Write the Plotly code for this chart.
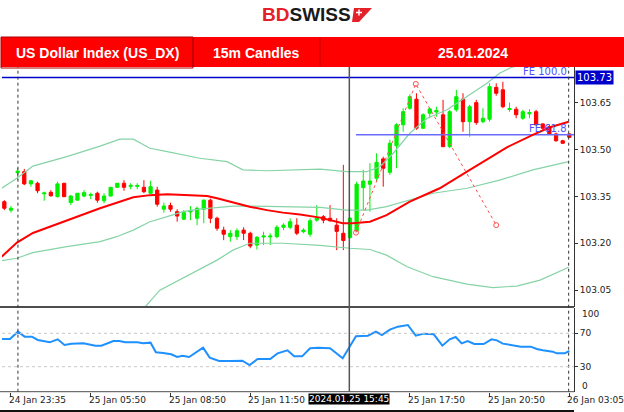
import plotly.graph_objects as go

# ---- datos ----
opens = [103.333, 103.306, 103.426, 103.429, 103.390, 103.392, 103.358, 103.363, 103.349, 103.392,
         103.330, 103.338, 103.351, 103.353, 103.360, 103.336, 103.351, 103.379, 103.392, 103.382,
         103.382, 103.379, 103.360, 103.370, 103.309, 103.321, 103.301, 103.277, 103.300, 103.280,
         103.309, 103.338, 103.280, 103.242, 103.221, 103.221, 103.242, 103.232, 103.194, 103.220,
         103.220, 103.221, 103.251, 103.251, 103.258, 103.237, 103.229, 103.274, 103.285, 103.280,
         103.258, 103.232, 103.218, 103.239, 103.378, 103.389, 103.408, 103.470, 103.427, 103.512,
         103.579, 103.632, 103.661, 103.568, 103.616, 103.620, 103.611, 103.509, 103.627, 103.661,
         103.589, 103.650, 103.589, 103.597, 103.699, 103.691, 103.628, 103.629, 103.600, 103.614,
         103.621, 103.582, 103.573, 103.550, 103.528, 103.550]
highs = [103.338, 103.319, 103.441, 103.438, 103.402, 103.397, 103.365, 103.370, 103.397, 103.393,
         103.354, 103.361, 103.370, 103.362, 103.365, 103.360, 103.380, 103.393, 103.402, 103.392,
         103.392, 103.402, 103.400, 103.381, 103.330, 103.330, 103.309, 103.306, 103.319, 103.317,
         103.340, 103.343, 103.285, 103.253, 103.242, 103.248, 103.251, 103.237, 103.223, 103.237,
         103.232, 103.258, 103.264, 103.280, 103.280, 103.248, 103.280, 103.322, 103.290, 103.322,
         103.280, 103.451, 103.284, 103.397, 103.435, 103.456, 103.488, 103.477, 103.531, 103.584,
         103.632, 103.677, 103.680, 103.616, 103.634, 103.637, 103.659, 103.627, 103.691, 103.680,
         103.643, 103.659, 103.632, 103.712, 103.712, 103.717, 103.650, 103.637, 103.627, 103.629,
         103.627, 103.584, 103.579, 103.554, 103.531, 103.552]
lows = [103.306, 103.298, 103.402, 103.386, 103.381, 103.360, 103.336, 103.349, 103.347, 103.348,
        103.322, 103.337, 103.347, 103.341, 103.330, 103.328, 103.350, 103.377, 103.368, 103.373,
        103.373, 103.360, 103.358, 103.317, 103.298, 103.301, 103.269, 103.274, 103.274, 103.258,
        103.264, 103.264, 103.240, 103.210, 103.205, 103.210, 103.210, 103.184, 103.180, 103.194,
        103.194, 103.216, 103.242, 103.245, 103.226, 103.232, 103.221, 103.269, 103.264, 103.269,
        103.178, 103.178, 103.216, 103.237, 103.306, 103.301, 103.397, 103.381, 103.419, 103.440,
        103.557, 103.627, 103.563, 103.566, 103.600, 103.605, 103.509, 103.504, 103.621, 103.557,
        103.541, 103.579, 103.584, 103.589, 103.672, 103.632, 103.621, 103.600, 103.595, 103.600,
        103.575, 103.563, 103.547, 103.525, 103.518, 103.537]
closes = [103.312, 103.312, 103.431, 103.390, 103.400, 103.368, 103.361, 103.352, 103.390, 103.349,
          103.351, 103.360, 103.362, 103.356, 103.338, 103.351, 103.379, 103.392, 103.379, 103.385,
          103.385, 103.365, 103.381, 103.325, 103.319, 103.309, 103.287, 103.298, 103.303, 103.312,
          103.338, 103.280, 103.248, 103.229, 103.232, 103.240, 103.232, 103.191, 103.219, 103.223,
          103.223, 103.251, 103.258, 103.269, 103.232, 103.242, 103.272, 103.280, 103.274, 103.272,
          103.238, 103.209, 103.280, 103.389, 103.399, 103.399, 103.459, 103.440, 103.520, 103.579,
          103.621, 103.669, 103.568, 103.611, 103.630, 103.625, 103.509, 103.621, 103.669, 103.589,
          103.637, 103.586, 103.600, 103.701, 103.680, 103.637, 103.631, 103.611, 103.621, 103.618,
          103.579, 103.568, 103.550, 103.528, 103.520, 103.539]
velas = list(range(len(opens)))

# media móvil (roja)
ma_x = [-0.4, 1.9, 4.3, 9.4, 14.4, 19.4, 21.9, 24.5, 26.9, 30.5, 32, 34.4, 36.9, 39.5, 41.9,
        44.5, 47.5, 50.9, 52.4, 55, 57.5, 61, 65.5, 69.6, 72.6, 75.6, 79.5, 82.1, 84.9]
ma_y = [103.157, 103.202, 103.233, 103.272, 103.312, 103.347, 103.354, 103.357, 103.355, 103.351,
        103.344, 103.330, 103.317, 103.306, 103.298, 103.292, 103.282, 103.264, 103.264, 103.269,
        103.290, 103.333, 103.376, 103.429, 103.467, 103.507, 103.547, 103.571, 103.589]

# bandas de Bollinger (verdes)
bb_sup_x = [-0.4, 1.9, 4.3, 9.4, 14.4, 17.4, 19.4, 21.9, 24.5, 29.4, 33.5, 35.9, 39.5, 47.5,
            51.5, 54.5, 56.5, 58.5, 61, 63.6, 66.6, 69.6, 72.6, 74.5, 76.3, 80.6, 85]
bb_sup = [103.376, 103.408, 103.447, 103.477, 103.511, 103.533, 103.533, 103.504, 103.493, 103.472,
          103.461, 103.435, 103.432, 103.437, 103.429, 103.429, 103.445, 103.488, 103.552, 103.600,
          103.627, 103.669, 103.712, 103.744, 103.763, 103.787, 103.800]
bb_med_x = [-0.4, 1.9, 4.3, 9.4, 14.4, 16.9, 19.4, 21.9, 24.5, 26.9, 29.4, 32, 34.4, 36.9, 41.9,
            47.5, 51.5, 54.5, 57.5, 61, 64.5, 69.6, 74.5, 79.5, 84.9]
bb_med = [103.144, 103.152, 103.170, 103.189, 103.205, 103.221, 103.242, 103.269, 103.285, 103.301,
          103.309, 103.315, 103.319, 103.319, 103.317, 103.315, 103.306, 103.306, 103.317, 103.338,
          103.360, 103.376, 103.402, 103.435, 103.461]
bb_inf_x = [19, 21.2, 23.4, 26.9, 32, 34.4, 36.9, 41.9, 47.5, 52, 55, 57.5, 60.6, 64.5, 69.6,
            73.5, 77.1, 80.6, 84.9]
bb_inf = [102.950, 102.997, 103.050, 103.088, 103.146, 103.178, 103.200, 103.200, 103.193, 103.184,
          103.180, 103.162, 103.125, 103.093, 103.069, 103.058, 103.063, 103.082, 103.123]

# expansión de Fibonacci
fib_x = [52.9, 61.9, 74.0]
fib_y = [103.234, 103.710, 103.258]
fe100 = 103.73
fe618 = 103.547
fe618_inicio = 52.9

# RSI
rsi_x = [-0.35, 0.85, 2.05, 3.06, 4.14, 5.04, 6.83, 8.03, 9.05, 10.1, 11.9, 13.7, 14.6, 16.4, 17.3,
         18.2, 20.0, 20.9, 22.0, 22.8, 23.9, 25.1, 26.0, 26.8, 27.8, 29.9, 30.9, 32.3, 34.1, 35.8,
         36.9, 38.1, 40.0, 41.1, 42.6, 43.6, 44.8, 46.0, 47.2, 49.0, 50.9, 52.9, 54.7, 55.9, 56.8,
         58.0, 59.2, 60.7, 61.9, 63.1, 64.6, 65.9, 67.0, 67.9, 68.8, 69.7, 70.7, 72.1, 73.3, 74.1,
         75.0, 76.8, 77.7, 79.2, 80.1, 81.0, 82.5, 83.1, 84.3, 85.0]
rsi = [63.2, 63.2, 72.0, 66.0, 66.0, 62.0, 59.2, 62.8, 56.0, 57.6, 58.0, 55.2, 55.2, 60.8, 60.8,
       59.2, 59.2, 58.0, 58.8, 47.2, 46.4, 44.8, 41.6, 43.2, 41.6, 52.8, 40.8, 36.8, 36.8, 37.2,
       32.0, 39.2, 39.2, 46.0, 49.6, 42.4, 42.4, 52.0, 52.8, 52.0, 40.0, 66.4, 67.2, 72.0, 68.0,
       74.4, 78.0, 80.0, 67.2, 69.6, 68.8, 55.2, 62.8, 65.6, 58.0, 60.8, 57.2, 57.2, 62.8, 61.6,
       57.6, 55.2, 54.0, 54.0, 51.2, 49.6, 48.0, 46.0, 46.0, 48.8]

precio_ticks = [103.05, 103.20, 103.35, 103.50, 103.65]
tiempo_pos = [1, 13, 25, 37, 61, 73, 85]
tiempo_txt = ['24 Jan 23:35', '25 Jan 05:50', '25 Jan 08:50', '25 Jan 11:50',
              '25 Jan 17:50', '25 Jan 20:50', '26 Jan 03:05']
cursor_idx = 51.9
separadores = [2.05, 84.9]

#%%
W, H = 624, 412
def px(x):
    return x / W

def py(y):
    return 1 - y / H

VERDE = '#00f000'
ROJO = '#ff0000'
BB = '#86d3a6'
FUENTE = 'DejaVu Sans'

fig = go.Figure()

for xs, ys in [(bb_sup_x, bb_sup), (bb_med_x, bb_med), (bb_inf_x, bb_inf)]:
    fig.add_trace(go.Scatter(x=xs, y=ys, mode='lines', line=dict(color=BB, width=1.2),
                             hoverinfo='skip'))

fig.add_trace(go.Scatter(x=[-0.35, 85.7], y=[fe100, fe100], mode='lines',
                         line=dict(color='#0000cc', width=1.5), hoverinfo='skip'))
fig.add_trace(go.Scatter(x=[fe618_inicio, 85.7], y=[fe618, fe618], mode='lines',
                         line=dict(color='#6a6aff', width=1.5), hoverinfo='skip'))

fig.add_trace(go.Candlestick(
    x=velas, open=opens, high=highs, low=lows, close=closes,
    increasing=dict(line=dict(color=VERDE, width=1), fillcolor=VERDE),
    decreasing=dict(line=dict(color=ROJO, width=1), fillcolor=ROJO),
    whiskerwidth=0, hoverinfo='skip'
))

fig.add_trace(go.Scatter(x=ma_x, y=ma_y, mode='lines', line=dict(color=ROJO, width=2),
                         hoverinfo='skip'))

fig.add_trace(go.Scatter(x=fib_x, y=fib_y, mode='lines+markers',
                         line=dict(color='#ff5050', width=1, dash='dot'),
                         marker=dict(symbol='circle-open', size=5, color='#ff5050'),
                         hoverinfo='skip'))

fig.add_trace(go.Scatter(x=rsi_x, y=rsi, mode='lines', xaxis='x2', yaxis='y2',
                         line=dict(color='#1e90ff', width=2), hoverinfo='skip'))

shapes = []
# cabecera roja
shapes.append(dict(type='rect', xref='paper', yref='paper', x0=px(1), x1=px(624),
                   y0=py(67), y1=py(37), fillcolor='#ff0000', line=dict(width=0), layer='above'))
for xx in [193, 320]:
    shapes.append(dict(type='line', xref='paper', yref='paper', x0=px(xx), x1=px(xx),
                       y0=py(67), y1=py(37), line=dict(color='#c00000', width=1), layer='above'))
shapes.append(dict(type='rect', xref='paper', yref='paper', x0=px(1), x1=px(193),
                   y0=py(68), y1=py(37), fillcolor='rgba(0,0,0,0)',
                   line=dict(color='#b00000', width=1), layer='above'))
# bandera del logo
shapes.append(dict(type='path', xref='paper', yref='paper', fillcolor='#e4202a',
                   line=dict(width=0),
                   path=f'M {px(354)},{py(8)} L {px(372)},{py(8)} L {px(359)},{py(22)} '
                        f'L {px(352)},{py(22)} Z'))
shapes.append(dict(type='path', xref='paper', yref='paper', line=dict(color='white', width=1.5),
                   path=f'M {px(356)},{py(12.5)} L {px(362)},{py(12.5)} '
                        f'M {px(359)},{py(9.5)} L {px(359)},{py(15.5)}'))
# separadores de paneles
shapes.append(dict(type='line', xref='paper', yref='paper', x0=0, x1=px(574),
                   y0=py(307), y1=py(307), line=dict(color='#4d4d4d', width=2)))
shapes.append(dict(type='line', xref='paper', yref='paper', x0=0, x1=px(574),
                   y0=py(391.7), y1=py(391.7), line=dict(color='#4d4d4d', width=1)))
shapes.append(dict(type='line', xref='paper', yref='paper', x0=0, x1=px(574),
                   y0=py(411), y1=py(411), line=dict(color='#111', width=2)))
# líneas verticales
for s in separadores:
    shapes.append(dict(type='line', xref='x', yref='paper', x0=s, x1=s,
                       y0=py(391.7), y1=py(67), line=dict(color='#333', width=1, dash='dot')))
shapes.append(dict(type='line', xref='x', yref='paper', x0=cursor_idx, x1=cursor_idx,
                   y0=py(391.7), y1=py(67), line=dict(color='#555', width=1.5)))
# niveles RSI
for lvl in [70, 30]:
    shapes.append(dict(type='line', xref='paper', yref='y2', x0=px(2), x1=px(574),
                       y0=lvl, y1=lvl, line=dict(color='#c8c8c8', width=1, dash='dot')))

annotations = []
annotations.append(dict(xref='paper', yref='paper', x=px(306), y=py(14.5),
                        xanchor='center', yanchor='middle',
                        text="<b><span style='color:#e4202a'>BD</span>SWISS</b>",
                        showarrow=False, font=dict(family='Liberation Sans', size=19, color='#1a1a1a')))
for txt, cx in [('US Dollar Index (US_DX)', 97), ('15m Candles', 256), ('25.01.2024', 473)]:
    annotations.append(dict(xref='paper', yref='paper', x=px(cx), y=py(53), text=f'<b>{txt}</b>',
                            xanchor='center', yanchor='middle', showarrow=False,
                            font=dict(family='Liberation Sans', size=14, color='white')))
annotations.append(dict(xref='paper', yref='y', x=px(569), y=fe100, xanchor='right', yanchor='bottom',
                        text='FE 100.0', showarrow=False, yshift=-1,
                        font=dict(family=FUENTE, size=10, color='#4f4fff')))
annotations.append(dict(xref='paper', yref='y', x=px(569), y=fe618, xanchor='right', yanchor='bottom',
                        text='FE 61.8', showarrow=False, yshift=-1,
                        font=dict(family=FUENTE, size=10, color='#4f4fff')))
annotations.append(dict(xref='paper', yref='y', x=px(575), y=fe100, xanchor='left', yanchor='middle',
                        text='103.73', showarrow=False, bgcolor='#0000cc', borderpad=1,
                        font=dict(family=FUENTE, size=10, color='white')))
for val, dy in [(100, -6), (0, 6)]:
    annotations.append(dict(xref='paper', yref='y2', x=px(580), y=val, xanchor='left', yanchor='middle',
                            text=str(val), showarrow=False, yshift=dy,
                            font=dict(family=FUENTE, size=9, color='#222')))
for pos, txt in zip(tiempo_pos, tiempo_txt):
    annotations.append(dict(xref='x', yref='paper', x=pos, y=py(400), xanchor='left', yanchor='middle',
                            text=txt, showarrow=False, xshift=-4,
                            font=dict(family=FUENTE, size=9, color='#222')))
annotations.append(dict(xref='x', yref='paper', x=cursor_idx, y=py(399), xanchor='center',
                        yanchor='middle', text='2024.01.25 15:45', showarrow=False,
                        bgcolor='black', borderpad=0,
                        font=dict(family=FUENTE, size=9, color='white')))

fig.update_layout(
    width=W, height=H,
    margin=dict(l=0, r=0, t=0, b=0),
    paper_bgcolor='white', plot_bgcolor='white',
    showlegend=False, hovermode=False,
    xaxis=dict(domain=[px(2), px(574)], range=[-0.35, 85.7], anchor='y',
               showticklabels=False, showgrid=False, zeroline=False,
               rangeslider=dict(visible=False)),
    xaxis2=dict(domain=[px(2), px(574)], range=[-0.35, 85.7], anchor='y2', matches='x',
                showticklabels=False, showgrid=False, zeroline=False,
                tickvals=tiempo_pos, ticks='outside', ticklen=4, tickcolor='#333'),
    yaxis=dict(domain=[py(307), py(67)], range=[102.996, 103.764], side='right', anchor='x',
               tickvals=precio_ticks, ticktext=[f'{v:.2f}' for v in precio_ticks],
               ticks='outside', ticklen=3, tickcolor='#333',
               showline=True, linecolor='#333', linewidth=1,
               showgrid=False, zeroline=False,
               tickfont=dict(family=FUENTE, size=9, color='#222')),
    yaxis2=dict(domain=[py(391.7), py(308.3)], range=[0, 100], side='right', anchor='x2',
                tickvals=[70, 30], ticks='outside', ticklen=3, tickcolor='#333',
                showline=True, linecolor='#333', linewidth=1,
                showgrid=False, zeroline=False,
                tickfont=dict(family=FUENTE, size=9, color='#222')),
    shapes=shapes,
    annotations=annotations,
)

fig.write_html("out.html", config={'displayModeBar': False},
               post_script="document.body.style.margin='0';document.body.style.overflow='hidden';")
